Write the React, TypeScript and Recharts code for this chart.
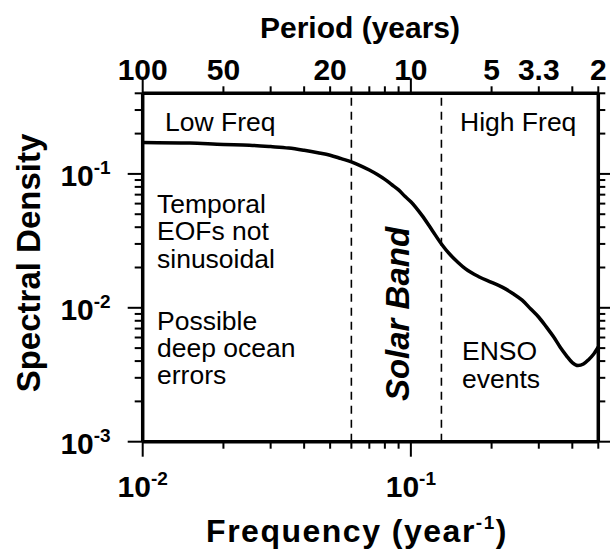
import React from "react";
import { ComposedChart, Line, XAxis, YAxis, ReferenceLine } from "recharts";

// ---- data ----
const FREQUENCY = [
  0.01, 0.015, 0.02, 0.025, 0.03, 0.035, 0.04, 0.045, 0.05, 0.055, 0.06, 0.065, 0.07, 0.075,
  0.08, 0.085, 0.09, 0.095, 0.1, 0.11, 0.12, 0.13, 0.14, 0.15, 0.16, 0.18, 0.2, 0.22, 0.24,
  0.26, 0.28, 0.3, 0.32, 0.34, 0.36, 0.38, 0.4, 0.42, 0.44, 0.46, 0.48, 0.5,
];
const DENSITY = [
  0.172, 0.17, 0.166, 0.164, 0.16, 0.156, 0.15, 0.144, 0.138, 0.13, 0.123, 0.115, 0.107, 0.099,
  0.091, 0.083, 0.076, 0.068, 0.062, 0.049, 0.038, 0.03, 0.025, 0.0218, 0.0195, 0.017, 0.0155,
  0.0142, 0.0128, 0.0114, 0.0098, 0.0085, 0.0072, 0.0061, 0.0051, 0.0044, 0.0039, 0.0037,
  0.0038, 0.0041, 0.0045, 0.0051,
];

const X_TICKS = [
  0.01, 0.02, 0.03, 0.04, 0.05, 0.06, 0.07, 0.08, 0.09, 0.1, 0.2, 0.3, 0.4, 0.5,
];
const Y_TICKS = [
  0.001, 0.002, 0.003, 0.004, 0.005, 0.006, 0.007, 0.008, 0.009,
  0.01, 0.02, 0.03, 0.04, 0.05, 0.06, 0.07, 0.08, 0.09,
  0.1, 0.2, 0.3, 0.4,
];

const PERIOD_TICK_FREQS = [0.01, 0.02, 0.05, 0.1, 0.2, 0.3, 0.5];
const PERIOD_TICK_LABELS = ["100", "50", "20", "10", "5", "3.3", "2"];

const FREQ_LABEL_TICKS = [0.01, 0.1];
const FREQ_LABEL_EXPS = ["-2", "-1"];

const DENSITY_LABEL_TICKS = [0.001, 0.01, 0.1];
const DENSITY_LABEL_EXPS = ["-3", "-2", "-1"];

const BAND_EDGES = [0.06, 0.13];

const data = FREQUENCY.map((f, i) => ({ f, v: DENSITY[i] }));

const FONT = '"Liberation Sans", Arial, Helvetica, sans-serif';
const INK = "#000";

const isMajor = (v: number) => Math.abs(Math.log10(v) - Math.round(Math.log10(v))) < 1e-9;
const findIdx = (arr: number[], v: number) => arr.findIndex((a) => Math.abs(a - v) < 1e-12);

const BottomTick = (props: any) => {
  const { x, y, payload } = props;
  const v = payload.value;
  const len = isMajor(v) ? 15 : 7;
  const i = findIdx(FREQ_LABEL_TICKS, v);
  return (
    <g>
      <rect x={x - 1} y={y} width={2} height={len} fill={INK} />
      {i >= 0 && (
        <text x={x} y={y + 55} textAnchor="middle" fontFamily={FONT} fontWeight="bold" fontSize={30} fill={INK}>
          10<tspan fontSize={19} dy={-12}>{FREQ_LABEL_EXPS[i]}</tspan>
        </text>
      )}
    </g>
  );
};

const TopTick = (props: any) => {
  const { x, y, payload } = props;
  const v = payload.value;
  const len = isMajor(v) ? 15 : 7;
  const i = findIdx(PERIOD_TICK_FREQS, v);
  return (
    <g>
      <rect x={x - 1} y={y - len} width={2} height={len} fill={INK} />
      {i >= 0 && (
        <text x={x} y={y - 13} textAnchor="middle" fontFamily={FONT} fontWeight="bold" fontSize={30} fill={INK}>
          {PERIOD_TICK_LABELS[i]}
        </text>
      )}
    </g>
  );
};

const LeftTick = (props: any) => {
  const { x, y, payload } = props;
  const v = payload.value;
  const len = isMajor(v) ? 15 : 8;
  const i = findIdx(DENSITY_LABEL_TICKS, v);
  return (
    <g>
      <rect x={x - len} y={y - 1} width={len} height={2} fill={INK} />
      {i >= 0 && (
        <text x={x - 32} y={y + 12} textAnchor="end" fontFamily={FONT} fontWeight="bold" fontSize={30} fill={INK}>
          10<tspan fontSize={19} dy={-12}>{DENSITY_LABEL_EXPS[i]}</tspan>
        </text>
      )}
    </g>
  );
};

const RightTick = (props: any) => {
  const { x, y, payload } = props;
  const len = isMajor(payload.value) ? 12 : 7;
  return <rect x={x} y={y - 1} width={len} height={2} fill={INK} />;
};

const axisLine = { stroke: INK, strokeWidth: 3.5 };

export default function App() {
  return (
    <div style={{ position: "absolute", left: 0, top: 0, width: 610, height: 552, background: "#fff" }}>
      <svg
        width={610}
        height={552}
        style={{ position: "absolute", left: 0, top: 0 }}
        fontFamily={FONT}
        fill={INK}
      >
        <text x={360} y={38} textAnchor="middle" fontSize={30} fontWeight="bold">Period (years)</text>
        <text x={357} y={542} textAnchor="middle" fontSize={32} fontWeight="bold" letterSpacing={1.5}>
          Frequency (year<tspan fontSize={19} dy={-13}>-1</tspan><tspan dy={13}>)</tspan>
        </text>
        <text x={40} y={263} textAnchor="middle" fontSize={33} fontWeight="bold" transform="rotate(-90 40 263)">
          Spectral Density
        </text>
        <text x={409} y={314} textAnchor="middle" fontSize={33} fontWeight="bold" fontStyle="italic" transform="rotate(-90 409 314)">
          Solar Band
        </text>
        <g fontSize={26.5}>
          <text x={165} y={131}>Low Freq</text>
          <text x={460} y={131}>High Freq</text>
          <text x={157} y={213}>Temporal</text>
          <text x={157} y={240}>EOFs not</text>
          <text x={157} y={268}>sinusoidal</text>
          <text x={157} y={330}>Possible</text>
          <text x={157} y={357}>deep ocean</text>
          <text x={157} y={384}>errors</text>
          <text x={462} y={360}>ENSO</text>
          <text x={462} y={388}>events</text>
        </g>
      </svg>
      <div style={{ position: "absolute", left: 0, top: 0, width: 610, height: 552 }}>
        <ComposedChart
          width={610}
          height={552}
          data={data}
          margin={{ top: 63.3, right: 5.7, bottom: 80.3, left: 82.7 }}
        >
          <XAxis
            dataKey="f"
            type="number"
            scale="log"
            domain={[0.01, 0.5]}
            allowDataOverflow
            ticks={X_TICKS}
            interval={0}
            height={30}
            tickSize={0}
            tickMargin={0}
            tickLine={false}
            axisLine={axisLine}
            tick={<BottomTick />}
          />
          <XAxis
            xAxisId="top"
            orientation="top"
            dataKey="f"
            type="number"
            scale="log"
            domain={[0.01, 0.5]}
            allowDataOverflow
            ticks={X_TICKS}
            interval={0}
            height={30}
            tickSize={0}
            tickMargin={0}
            tickLine={false}
            axisLine={axisLine}
            tick={<TopTick />}
          />
          <YAxis
            type="number"
            scale="log"
            domain={[0.001, 0.4]}
            allowDataOverflow
            ticks={Y_TICKS}
            interval={0}
            width={60}
            tickSize={0}
            tickMargin={0}
            tickLine={false}
            axisLine={axisLine}
            tick={<LeftTick />}
          />
          <YAxis
            yAxisId="right"
            orientation="right"
            type="number"
            scale="log"
            domain={[0.001, 0.4]}
            allowDataOverflow
            ticks={Y_TICKS}
            interval={0}
            width={6}
            tickSize={0}
            tickMargin={0}
            tickLine={false}
            axisLine={axisLine}
            tick={<RightTick />}
          />
          {BAND_EDGES.map((b) => (
            <ReferenceLine key={b} x={b} stroke={INK} strokeWidth={1.6} strokeDasharray="8 6" />
          ))}
          <Line
            dataKey="v"
            type="monotone"
            stroke={INK}
            strokeWidth={3.5}
            dot={false}
            activeDot={false}
            isAnimationActive={false}
          />
        </ComposedChart>
      </div>
    </div>
  );
}
